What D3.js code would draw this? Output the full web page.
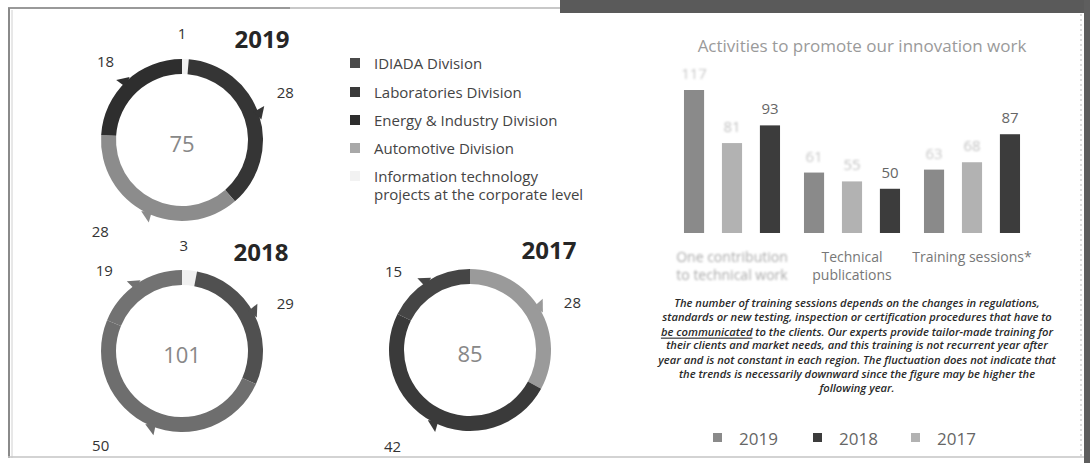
<!DOCTYPE html>
<html>
<head>
<meta charset="utf-8">
<script src="https://cdn.jsdelivr.net/npm/d3@7"></script>
<style>
  html, body { margin: 0; padding: 0; background: #fff; }
  svg { display: block; font-family: "Open Sans", "Noto Sans", sans-serif; }
</style>
</head>
<body>
<svg id="chart" width="1090" height="463"></svg>
<script>
// ---- Division donuts ----
const divisions = ["IDIADA Division", "Laboratories Division", "Energy & Industry Division", "Automotive Division", "Information technology|projects at the corporate level"];
const divisionSwatch = ["#4a4a4a", "#3a3a3a", "#2e2e2e", "#a8a8a8", "#f2f2f2"];

// segments clockwise from 12 o'clock
const donut2019Divs = ["Information technology", "IDIADA", "Automotive", "Laboratories"];
const donut2019Vals = [1, 28, 28, 18];
const donut2018Divs = ["Information technology", "IDIADA", "Automotive", "Laboratories"];
const donut2018Vals = [3, 29, 50, 19];
const donut2017Divs = ["IDIADA", "Automotive", "Laboratories"];
const donut2017Vals = [28, 42, 15];
const donutYears = ["2019", "2018", "2017"];
const donutTotals = [75, 101, 85];

// ---- Innovation activities bar chart ----
const activityCats = ["One contribution|to technical work", "Technical|publications", "Training sessions*"];
const barSeries = ["2019", "2017", "2018"];
const bars2019 = [117, 61, 63];
const bars2017 = [81, 55, 68];
const bars2018 = [93, 50, 87];
const legendYears = ["2019", "2018", "2017"];
const noteLines = [
  "The number of training sessions depends on the changes in regulations,",
  "standards or new testing, inspection or certification procedures that have to",
  "be communicated| to the clients. Our experts provide tailor-made training for",
  "their clients and market needs, and this training is not recurrent year after",
  "year and is not constant in each region. The fluctuation does not indicate that",
  "the trends is necessarily downward since the figure may be higher the",
  "following year."
];

const svg = d3.select("#chart");

// soft-focus filter for faded labels
const defs = svg.append("defs");
defs.append("filter").attr("id", "soft").attr("x", "-10%").attr("y", "-20%").attr("width", "120%").attr("height", "140%")
  .append("feGaussianBlur").attr("stdDeviation", 0.9);

// ---- page frame ----
svg.append("line").attr("x1", 8).attr("x2", 290).attr("y1", 8).attr("y2", 8).attr("stroke", "#999").attr("stroke-width", 2);
svg.append("line").attr("x1", 290).attr("x2", 560).attr("y1", 8).attr("y2", 8).attr("stroke", "#c8c8c8").attr("stroke-width", 2);
svg.append("line").attr("x1", 9).attr("x2", 9).attr("y1", 8).attr("y2", 458).attr("stroke", "#8a8a8a").attr("stroke-width", 2);
svg.append("line").attr("x1", 12).attr("x2", 12).attr("y1", 10).attr("y2", 458).attr("stroke", "#d0d0d0").attr("stroke-width", 1);
svg.append("line").attr("x1", 8).attr("x2", 1084).attr("y1", 457).attr("y2", 457).attr("stroke", "#c4c4c4").attr("stroke-width", 1.5);
svg.append("rect").attr("x", 560).attr("y", 0).attr("width", 530).attr("height", 13).attr("fill", "#5a5a5a");
svg.append("rect").attr("x", 1084).attr("y", 0).attr("width", 6).attr("height", 463).attr("fill", "#5e5e5e");
svg.append("line").attr("x1", 1081).attr("x2", 1081).attr("y1", 14).attr("y2", 457).attr("stroke", "#bbb").attr("stroke-width", 1).attr("stroke-dasharray", "2,3");

// ---- donuts ----
const deg = Math.PI / 180;
const donutSpecs = [
  { cx: 182, cy: 140, vals: donut2019Vals, colors: ["#f0f0f0", "#353535", "#8c8c8c", "#2e2e2e"],
    labelAt: [[0, 107], [65, 114], [222, 122], [316, 110]], title: [262, 38] },
  { cx: 182, cy: 351, vals: donut2018Vals, colors: ["#f0f0f0", "#505050", "#6e6e6e", "#727272"],
    labelAt: [[1, 106], [65, 114], [221, 124], [316, 112]], title: [261, 251] },
  { cx: 470, cy: 350, vals: donut2017Vals, colors: ["#9a9a9a", "#3a3a3a", "#454545"],
    labelAt: [[65, 113], [219, 123], [316, 110]], title: [549, 249] }
];
const rOut = 81, rIn = 66;
const pie = d3.pie().sort(null).value(d => d);
const arc = d3.arc().innerRadius(rIn).outerRadius(rOut);
const polar = (r, a) => [r * Math.sin(a), -r * Math.cos(a)];

donutSpecs.forEach((spec, i) => {
  const g = svg.append("g").attr("transform", `translate(${spec.cx},${spec.cy})`);
  const arcs = pie(spec.vals);
  g.selectAll("path.seg").data(arcs).join("path")
    .attr("class", "seg")
    .attr("d", arc)
    .attr("fill", (d, j) => spec.colors[j]);

  // small arrow-head notches on each large segment
  arcs.forEach((d, j) => {
    if (d.data < 5) return;
    const m = (d.startAngle + d.endAngle) / 2;
    const dA = 0.06;
    const pts = [polar(rOut - 4, m - dA), polar(rOut + 8, m - dA * 1.3), polar(rOut + 1, m + dA)];
    g.append("path").attr("d", "M" + pts.map(p => p.join(",")).join("L") + "Z").attr("fill", spec.colors[j]);
  });

  // value labels around the ring
  g.selectAll("text.val").data(arcs).join("text")
    .attr("class", "val")
    .attr("x", (d, j) => polar(spec.labelAt[j][1], spec.labelAt[j][0] * deg)[0])
    .attr("y", (d, j) => polar(spec.labelAt[j][1], spec.labelAt[j][0] * deg)[1])
    .attr("text-anchor", "middle").attr("dominant-baseline", "central")
    .attr("font-size", 15).attr("fill", "#333")
    .text(d => d.data);

  g.append("text").attr("y", 3).attr("text-anchor", "middle").attr("dominant-baseline", "central")
    .attr("font-size", 22).attr("fill", "#888").text(donutTotals[i]);

  svg.append("text").attr("x", spec.title[0]).attr("y", spec.title[1]).attr("text-anchor", "middle")
    .attr("dominant-baseline", "central").attr("font-size", 24).attr("font-weight", 700).attr("fill", "#262626")
    .text(donutYears[i]);
});

// ---- division legend ----
const legRows = [63, 92, 120, 148, 176];
divisions.forEach((name, i) => {
  const y = legRows[i];
  svg.append("rect").attr("x", 350).attr("y", y - 5).attr("width", 10).attr("height", 10).attr("fill", divisionSwatch[i]);
  const t = svg.append("text").attr("x", 374).attr("y", y).attr("dominant-baseline", "central")
    .attr("font-size", 15).attr("fill", "#444");
  name.split("|").forEach((ln, k) => t.append("tspan").attr("x", 374).attr("dy", k === 0 ? 0 : 18).text(ln));
});

// ---- bar chart ----
svg.append("text").attr("x", 862).attr("y", 45).attr("text-anchor", "middle").attr("dominant-baseline", "central")
  .attr("font-size", 17).attr("fill", "#9a9a9a").text("Activities to promote our innovation work");

const x0 = d3.scaleBand().domain(activityCats).range([672, 1032]);
const x1 = d3.scaleBand().domain(barSeries).range([4, x0.bandwidth() - 4]).paddingInner(0.47).paddingOuter(0.21);
const y = d3.scaleLinear().domain([20, 117]).range([233, 90]);
const seriesVals = { "2019": bars2019, "2017": bars2017, "2018": bars2018 };
const seriesFill = { "2019": "#8a8a8a", "2017": "#b2b2b2", "2018": "#3c3c3c" };
const labelFill = { "2019": "#c8c8c8", "2017": "#c2c2c2", "2018": "#666" };

activityCats.forEach((cat, ci) => {
  const g = svg.append("g").attr("transform", `translate(${x0(cat)},0)`);
  barSeries.forEach(s => {
    const v = seriesVals[s][ci];
    g.append("rect").attr("x", x1(s)).attr("y", y(v)).attr("width", x1.bandwidth())
      .attr("height", y(20) - y(v)).attr("fill", seriesFill[s]);
    g.append("text").attr("x", x1(s) + x1.bandwidth() / 2).attr("y", y(v) - 17)
      .attr("text-anchor", "middle").attr("dominant-baseline", "central")
      .attr("font-size", 15).attr("fill", labelFill[s])
      .attr("filter", s === "2018" ? null : "url(#soft)")
      .text(v);
  });
  const t = svg.append("text").attr("x", x0(cat) + x0.bandwidth() / 2).attr("y", 256)
    .attr("text-anchor", "middle").attr("dominant-baseline", "central")
    .attr("font-size", 14).attr("fill", ci === 0 ? "#aaa" : "#777")
    .attr("filter", ci === 0 ? "url(#soft)" : null);
  cat.split("|").forEach((ln, k) => t.append("tspan").attr("x", x0(cat) + x0.bandwidth() / 2).attr("dy", k === 0 ? 0 : 18).text(ln));
});

// explanatory note
noteLines.forEach((ln, i) => {
  const t = svg.append("text").attr("x", 857).attr("y", 302 + i * 14.3)
    .attr("text-anchor", "middle").attr("dominant-baseline", "central")
    .attr("font-size", 11.2).attr("font-style", "italic").attr("font-weight", 600).attr("fill", "#2a2a2a");
  const parts = ln.split("|");
  if (parts.length > 1) {
    t.append("tspan").attr("text-decoration", "underline").text(parts[0]);
    t.append("tspan").text(parts[1]);
  } else {
    t.text(ln);
  }
});

// year legend
const lx = [713, 813, 911];
legendYears.forEach((yr, i) => {
  svg.append("rect").attr("x", lx[i]).attr("y", 433).attr("width", 9).attr("height", 9).attr("fill", seriesFill[yr]);
  svg.append("text").attr("x", lx[i] + 26).attr("y", 438).attr("dominant-baseline", "central")
    .attr("font-size", 17).attr("fill", "#666").text(yr);
});
</script>
</body>
</html>
